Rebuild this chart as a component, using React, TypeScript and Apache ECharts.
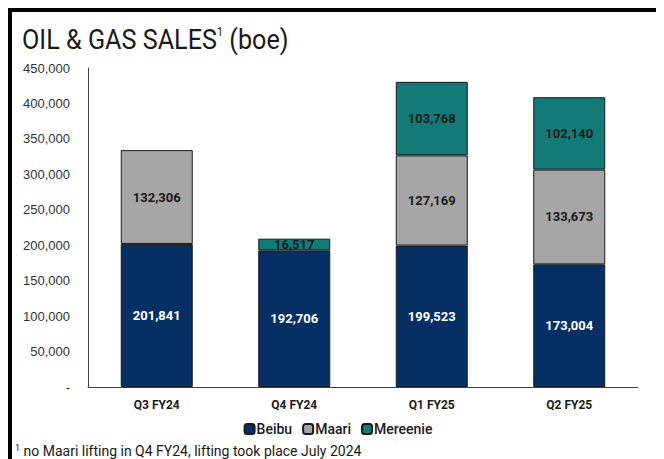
import React, { useEffect, useRef } from "react";
import * as echarts from "echarts";

const categories = ["Q3 FY24", "Q4 FY24", "Q1 FY25", "Q2 FY25"];
const beibu = [201841, 192706, 199523, 173004];
const maari = [132306, null, 127169, 133673];
const mereenie = [null, 16517, 103768, 102140];
const yTicks = [0, 50000, 100000, 150000, 200000, 250000, 300000, 350000, 400000, 450000];

const fmt = (v: number) => (v === 0 ? "-" : v.toLocaleString("en-US"));

export default function App() {
  const ref = useRef<HTMLDivElement>(null);
  useEffect(() => {
    if (!ref.current) return;
    const chart = echarts.init(ref.current, null, { renderer: "svg" });
    const labelBase = {
      show: true,
      position: "inside",
      fontSize: 13,
      fontWeight: "bold",
      fontFamily: "Roboto",
      formatter: (p: any) => fmt(p.value),
    };
    const border = { borderColor: "#1a1a1a", borderWidth: 1 };
    chart.setOption({
      animation: false,
      textStyle: { fontFamily: "Roboto" },
      graphic: [
        {
          type: "text",
          x: 10,
          y: 14,
          scaleX: 0.9,
          style: {
            text: "{t|OIL & GAS SALES}{s|1}{t| (boe)}",
            rich: {
              t: { fontSize: 28, fontFamily: "Roboto", fill: "#1a1a1a", verticalAlign: "bottom" },
              s: { fontSize: 12, fontFamily: "Roboto", fill: "#1a1a1a", verticalAlign: "top", padding: [0, 0, 14, 0] },
            },
          },
        },
        {
          type: "text",
          x: 3,
          y: 431,
          style: {
            text: "{s|1}{t| no Maari lifting in Q4 FY24, lifting took place July 2024}",
            rich: {
              t: { fontSize: 14, fontFamily: "Roboto", fill: "#1a1a1a" },
              s: { fontSize: 9, fontFamily: "Roboto", fill: "#1a1a1a", verticalAlign: "top", padding: [0, 0, 6, 0] },
            },
          },
        },
      ],
      legend: {
        bottom: 18,
        left: "center",
        itemWidth: 10,
        itemHeight: 10,
        itemGap: 10,
        textStyle: { fontSize: 14, fontWeight: 500, color: "#1a1a1a", padding: [0, 0, 0, -3] },
        data: ["Beibu", "Maari", "Mereenie"],
      },
      grid: { left: 76, width: 550, top: 56, height: 319 },
      xAxis: {
        type: "category",
        data: categories,
        axisLine: { lineStyle: { color: "#404040", width: 1 } },
        axisTick: { show: false },
        axisLabel: { fontSize: 12, fontWeight: "bold", color: "#1a1a1a", margin: 12 },
      },
      yAxis: {
        type: "value",
        min: yTicks[0],
        max: yTicks[yTicks.length - 1],
        interval: 50000,
        axisLine: { show: true, lineStyle: { color: "#404040", width: 1 } },
        axisTick: { show: false },
        splitLine: { show: false },
        axisLabel: { fontSize: 13, color: "#333", margin: 18, formatter: (v: number) => fmt(v), fontFamily: "Liberation Sans" },
      },
      series: [
        {
          name: "Beibu",
          type: "bar",
          stack: "s",
          barWidth: 72,
          data: beibu,
          itemStyle: { color: "#062f63", ...border },
          label: { ...labelBase, color: "#ffffff" },
        },
        {
          name: "Maari",
          type: "bar",
          stack: "s",
          data: maari,
          itemStyle: { color: "#a6a6a6", ...border },
          label: { ...labelBase, color: "#1a1a1a" },
        },
        {
          name: "Mereenie",
          type: "bar",
          stack: "s",
          data: mereenie,
          itemStyle: { color: "#137a78", ...border },
          label: { ...labelBase, color: "#1a1a1a" },
        },
      ],
    });
    return () => chart.dispose();
  }, []);
  return (
    <div
      style={{
        width: 656,
        height: 451,
        boxSizing: "border-box",
        borderTop: "4px solid #000",
        borderLeft: "4px solid #000",
        overflow: "hidden",
        background: "#fff",
      }}
    >
      <div ref={ref} style={{ width: 652, height: 447 }} />
    </div>
  );
}
